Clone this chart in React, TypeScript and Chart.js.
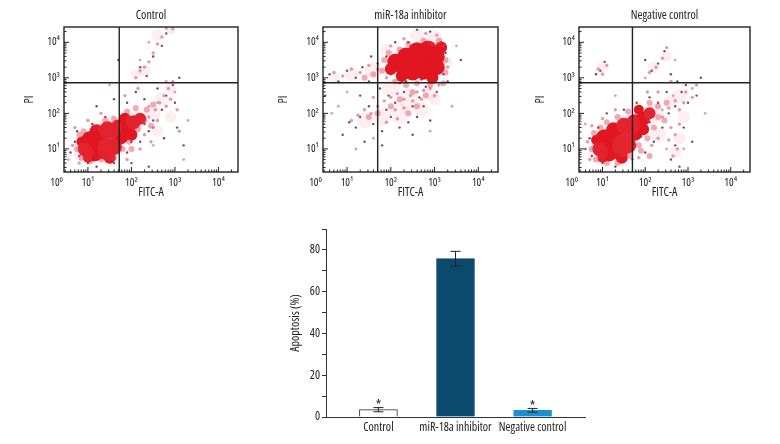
import React, { useEffect, useRef } from "react";
import { Chart, registerables } from "chart.js";
Chart.register(...registerables);

const FAMILY = "'Open Sans', 'Roboto', sans-serif";
const STRETCH = "condensed"; // passed through Chart.js font "weight" slot -> "normal condensed 12px 'Open Sans'"
const f = (size: number) => ({ family: FAMILY, size, weight: STRETCH as any, style: "normal" as const, lineHeight: 1.2 });

// ---- Flow cytometry panels (values in log10 units) ----
const flowTitles = ["Control", "miR-18a inhibitor", "Negative control"];
const xTickValues = [0.28, 1, 2, 3, 4];
const xTickLabels = ["10⁰", "10¹", "10²", "10³", "10⁴"];
const yTickValues = [1, 2, 3, 4];
const yTickLabels = ["10¹", "10²", "10³", "10⁴"];
const quadX = [1.72, 1.7, 1.7];
const quadY = [2.86, 2.86, 2.86];

const core1 = [[0.95,1.0,8],[1.15,0.9,9],[1.4,0.95,9],[1.6,1.05,8],[1.05,1.25,9],[1.3,1.2,10],[1.55,1.3,9],[1.75,1.35,8],[1.2,1.5,7],[1.45,1.55,8],[1.7,1.6,8],[1.9,1.6,8],[2.05,1.75,7],[2.2,1.85,6],[1.85,1.85,6],[1.5,0.75,6],[1.0,0.75,5],[0.85,1.2,5],[2.0,1.4,6]];
const core2 = [[2.1,3.45,8],[2.3,3.3,9],[2.35,3.6,9],[2.55,3.45,10],[2.6,3.75,9],[2.8,3.5,10],[2.85,3.8,9],[3.05,3.6,8],[3.05,3.3,8],[2.75,3.2,9],[2.5,3.15,8],[2.25,3.05,6],[2.95,3.0,6],[3.15,3.85,6],[2.0,3.25,6]];
const core3 = [[0.95,1.0,8],[1.15,0.9,9],[1.4,0.95,9],[1.6,1.1,8],[1.05,1.3,9],[1.3,1.25,10],[1.55,1.35,9],[1.75,1.45,8],[1.25,1.55,7],[1.5,1.65,8],[1.75,1.75,8],[1.95,1.85,7],[2.1,2.0,6],[1.85,2.1,5],[1.45,0.75,6],[1.0,0.75,5],[0.85,1.25,5],[1.95,1.55,6]];

const fringe1 = [[0.75,1.0],[0.8,1.4],[0.85,0.75],[1.05,0.65],[1.3,0.7],[1.6,0.75],[1.8,1.0],[1.95,1.2],[2.15,1.55],[2.3,1.8],[2.35,2.1],[2.1,2.15],[1.9,2.05],[1.6,1.85],[1.4,1.8],[1.15,1.6],[0.9,1.5],[2.45,1.65],[2.5,2.25],[2.0,1.0]];
const fringe2 = [[1.85,3.5],[1.8,3.2],[1.95,3.7],[2.2,3.8],[2.4,3.95],[2.75,4.05],[3.1,4.05],[3.25,3.5],[3.25,3.15],[3.2,2.85],[2.9,2.8],[2.6,2.85],[2.35,2.8],[2.1,2.9],[1.6,3.1],[1.4,3.0],[2.5,2.6],[2.8,2.5],[2.2,2.4],[2.0,2.2],[1.7,2.0],[2.4,2.0],[2.6,2.2],[1.5,1.9]];
const fringe3 = [[0.75,1.0],[0.8,1.45],[0.85,0.7],[1.1,0.6],[1.35,0.6],[1.65,0.8],[1.85,1.1],[2.05,1.3],[2.2,1.6],[2.3,1.9],[2.3,2.2],[2.1,2.3],[1.6,2.05],[1.35,1.9],[1.1,1.75],[0.95,1.6],[2.45,1.8],[2.5,2.3],[1.9,0.95],[2.1,0.8]];

const mid1 = [[2.4,1.9],[2.55,2.1],[2.65,2.3],[2.75,2.5],[2.85,2.7],[2.95,2.9],[2.5,1.6],[2.6,1.8],[2.8,2.2],[2.9,2.4],[2.3,1.4],[2.2,1.0],[2.45,1.2],[1.9,0.7],[0.8,0.6],[0.65,1.1],[0.7,1.6],[1.0,1.8],[1.3,2.0],[2.1,3.0],[2.2,3.2],[2.3,3.3],[2.4,3.45],[2.5,3.7],[2.6,3.95],[2.7,4.15],[2.8,4.4],[2.95,4.38],[2.15,2.7],[1.85,2.5],[3.05,2.1],[3.1,1.5]];
const mid2 = [[1.1,1.8],[1.25,1.95],[1.4,2.1],[1.55,2.0],[1.7,2.2],[1.85,2.35],[2.0,2.45],[2.15,2.55],[2.3,2.4],[2.45,2.5],[2.6,2.6],[2.75,2.65],[2.9,2.7],[3.0,2.5],[2.1,2.1],[2.3,2.15],[2.5,2.35],[2.7,2.4],[1.9,1.75],[2.15,1.85],[1.6,2.45],[0.7,3.15],[0.9,3.05],[1.1,3.25],[1.3,3.15],[1.5,3.35],[1.7,3.25],[1.9,3.0],[2.0,3.9],[2.3,4.1],[2.8,4.25],[3.05,4.2],[3.2,3.9],[3.3,3.3],[3.1,2.8]];
const mid3 = [[2.4,1.9],[2.55,2.15],[2.7,2.35],[2.8,2.1],[2.9,2.3],[2.95,2.6],[2.6,1.6],[2.7,1.4],[2.75,1.0],[2.65,0.8],[2.55,1.25],[2.8,1.7],[2.3,1.3],[2.15,1.1],[1.85,0.75],[0.7,0.7],[0.65,1.2],[0.75,1.65],[1.0,1.85],[1.3,2.1],[0.9,3.25],[1.0,3.1],[1.1,3.35],[2.1,3.15],[2.25,3.3],[2.4,3.55],[2.5,3.85],[2.3,2.6],[2.05,2.6],[3.1,2.45],[3.2,2.8],[2.6,2.9]];

const haze1 = [[0.9,0.9,10],[1.5,1.0,12],[1.5,1.6,12],[2.1,1.8,10],[2.5,2.0,8],[2.7,2.4,7],[2.9,2.7,6],[2.3,3.2,6],[2.1,3.1,5],[2.6,4.2,6],[2.9,4.35,5],[2.6,1.5,6],[2.9,1.9,6]];
const haze2 = [[1.6,3.2,9],[1.1,3.1,7],[0.7,3.0,6],[2.0,2.7,9],[2.4,2.4,10],[2.9,2.6,8],[2.2,2.0,10],[1.8,1.9,9],[1.4,1.8,8],[2.7,2.1,8],[3.0,2.4,6],[3.0,4.1,8],[2.6,4.2,7],[1.9,3.8,6],[3.3,3.4,5]];
const haze3 = [[0.9,0.9,10],[1.5,1.1,12],[1.6,1.7,12],[2.2,2.0,10],[2.6,2.3,7],[2.8,2.5,7],[2.9,1.9,6],[2.8,1.3,6],[2.7,0.9,6],[1.0,3.3,6],[2.2,3.3,6],[2.5,3.6,5],[2.3,1.4,8]];

const dark1 = [[0.7,1.2],[0.8,0.8],[1.0,0.6],[1.2,0.5],[1.6,0.6],[1.9,0.9],[2.2,1.2],[2.4,1.5],[2.5,1.8],[2.7,2.1],[2.8,2.5],[2.95,2.8],[3.0,2.3],[2.6,2.7],[2.3,2.4],[2.1,2.6],[1.9,2.3],[1.6,2.4],[1.7,3.5],[2.2,3.3],[2.35,3.05],[2.5,3.6],[2.7,3.9],[2.8,4.25],[3.05,1.6],[2.75,1.3],[3.2,1.1],[2.4,0.5],[1.4,1.9],[1.1,1.7],[0.75,1.5],[1.3,1.1],[1.7,1.0],[1.55,1.35],[2.0,1.2],[2.3,1.7],[1.2,2.2],[3.1,3.0],[0.6,0.9],[2.0,0.6]];
const dark2 = [[0.6,3.1],[0.8,2.9],[1.0,3.2],[1.2,3.0],[1.35,3.3],[1.5,2.9],[1.7,3.4],[1.75,2.7],[1.95,2.5],[2.1,2.3],[2.3,2.6],[2.5,2.2],[2.65,2.45],[2.8,2.75],[2.95,2.9],[3.05,2.6],[2.6,1.9],[2.4,1.75],[2.2,1.6],[1.9,2.1],[1.6,1.7],[1.3,1.9],[1.2,1.6],[1.05,1.75],[1.5,2.2],[1.8,1.5],[2.0,1.9],[2.75,2.2],[3.2,3.1],[3.25,3.7],[3.15,4.0],[2.9,4.3],[2.6,4.35],[2.4,4.0],[2.1,4.0],[1.9,3.6],[1.55,3.6],[2.0,3.1],[2.35,2.9],[2.7,2.95],[3.3,2.9],[1.8,1.1],[1.4,1.2],[0.9,1.4],[2.5,1.4],[2.9,1.8],[3.6,3.5],[0.5,2.5],[1.3,2.5],[2.2,2.85]];
const dark3 = [[0.7,1.3],[0.75,0.8],[1.0,0.6],[1.3,0.5],[1.7,0.7],[2.0,0.9],[2.2,1.2],[2.4,1.6],[2.55,2.0],[2.7,2.2],[2.85,2.6],[2.95,2.8],[2.75,2.9],[3.0,2.3],[2.9,1.6],[2.7,1.1],[2.6,0.7],[2.8,0.5],[2.5,2.6],[2.3,2.3],[2.1,2.45],[1.8,2.3],[1.5,2.1],[1.1,2.0],[0.9,1.6],[0.95,3.2],[1.05,3.45],[0.85,3.1],[2.15,3.2],[2.3,3.4],[2.45,3.75],[2.6,3.1],[2.0,3.5],[3.2,2.5],[3.3,3.0],[1.3,1.2],[1.6,0.95],[1.9,1.35],[1.55,1.45],[2.1,1.75],[0.6,1.0],[3.1,1.2]];

const pale1 = [[2.4,2.2],[2.6,2.3],[2.8,2.9],[3.0,2.6],[2.5,1.1],[3.3,1.8],[1.5,2.8],[2.2,3.5],[2.4,4.0],[0.55,0.7],[3.2,0.7]];
const pale2 = [[1.0,2.6],[0.8,2.2],[1.6,1.3],[2.9,1.5],[3.4,2.2],[3.5,3.9],[1.2,1.0],[0.65,2.0]];
const pale3 = [[2.4,2.1],[2.65,2.5],[3.1,2.7],[2.5,1.0],[2.9,1.0],[1.3,2.5],[2.0,3.0],[2.7,3.5],[0.6,1.7],[3.4,2.0]];

const coreSets = [core1, core2, core3];
const fringeSets = [fringe1, fringe2, fringe3];
const midSets = [mid1, mid2, mid3];
const hazeSets = [haze1, haze2, haze3];
const darkSets = [dark1, dark2, dark3];
const paleSets = [pale1, pale2, pale3];

// ---- Bar chart ----
const barCategories = ["Control", "miR-18a inhibitor", "Negative control"];
const barValues = [3.5, 75.8, 3.2];
const barErrors = [1.0, 3.5, 0.9];
const barStars = [true, false, true];
const barColors = ["#ffffff", "#0b4a6e", "#1b8fd2"];
const barBorders = ["#333333", "#0b4a6e", "#1b8fd2"];

const flowFrame = {
  id: "flowFrame",
  afterDatasetsDraw(chart: any, _args: any, opts: any) {
    const { ctx, chartArea: a, scales } = chart;
    const x = scales.x, y = scales.y;
    ctx.save();
    ctx.strokeStyle = "#222";
    ctx.lineWidth = 1.4;
    ctx.strokeRect(a.left, a.top, a.width, a.height);
    const qx = x.getPixelForValue(opts.qx);
    const qy = y.getPixelForValue(opts.qy);
    ctx.beginPath();
    ctx.moveTo(qx, a.top); ctx.lineTo(qx, a.bottom);
    ctx.moveTo(a.left, qy); ctx.lineTo(a.right, qy);
    ctx.stroke();
    ctx.lineWidth = 1;
    ctx.beginPath();
    for (let d = 0; d <= 4; d++) {
      for (let k = 1; k <= 9; k++) {
        const v = d + Math.log10(k);
        const len = k === 1 ? 5 : 2.5;
        if (v > x.min && v < x.max) {
          const px = x.getPixelForValue(v);
          ctx.moveTo(px, a.bottom); ctx.lineTo(px, a.bottom - len);
        }
        if (v > y.min && v < y.max) {
          const py = y.getPixelForValue(v);
          ctx.moveTo(a.left, py); ctx.lineTo(a.left + len, py);
        }
      }
    }
    ctx.stroke();
    ctx.restore();
  },
};

const errorBars = {
  id: "errorBars",
  afterDatasetsDraw(chart: any) {
    const { ctx, scales } = chart;
    const x = scales.x, y = scales.y;
    ctx.save();
    ctx.strokeStyle = "#222";
    ctx.fillStyle = "#222";
    ctx.lineWidth = 1;
    ctx.font = `normal condensed 14px ${FAMILY}`;
    ctx.textAlign = "center";
    ctx.textBaseline = "alphabetic";
    barValues.forEach((v, i) => {
      const px = x.getPixelForValue(i);
      const top = y.getPixelForValue(v + barErrors[i]);
      const bot = y.getPixelForValue(v - barErrors[i]);
      ctx.beginPath();
      ctx.moveTo(px, top); ctx.lineTo(px, bot);
      ctx.moveTo(px - 5, top); ctx.lineTo(px + 5, top);
      ctx.moveTo(px - 5, bot); ctx.lineTo(px + 5, bot);
      ctx.stroke();
      if (barStars[i]) ctx.fillText("*", px, top + 2.5);
    });
    ctx.restore();
  },
};

function toPts(arr: number[][]) {
  return arr.map((p) => ({ x: p[0], y: p[1] }));
}

function FlowPlot({ idx, left, boxLeft, boxRight }: { idx: number; left: number; boxLeft: number; boxRight: number }) {
  const ref = useRef<HTMLCanvasElement>(null);
  const width = boxRight + 10 - left;
  const height = 205;
  useEffect(() => {
    const chart = new Chart(ref.current as HTMLCanvasElement, {
      type: "scatter",
      data: {
        datasets: [
          { data: toPts(hazeSets[idx]), pointRadius: hazeSets[idx].map((p) => p[2]), backgroundColor: "rgba(236,125,150,0.13)", borderWidth: 0, clip: 0 } as any,
          { data: toPts(paleSets[idx]), pointRadius: 1.4, backgroundColor: "rgba(225,120,140,0.75)", borderWidth: 0, clip: 0 } as any,
          { data: toPts(midSets[idx]), pointRadius: 1.7, backgroundColor: "rgba(205,70,100,0.55)", borderWidth: 0, clip: 0 } as any,
          { data: toPts(fringeSets[idx]), pointRadius: 3, backgroundColor: "rgba(226,40,60,0.4)", borderWidth: 0, clip: 0 } as any,
          { data: toPts(coreSets[idx]), pointRadius: coreSets[idx].map((p) => p[2]), backgroundColor: "rgb(226,22,32)", borderWidth: 0, clip: 0 } as any,
          { data: toPts(darkSets[idx]), pointRadius: 1.2, backgroundColor: "rgba(70,35,45,0.8)", borderWidth: 0, clip: 0 } as any,
        ],
      },
      options: {
        responsive: false,
        animation: false,
        events: [],
        layout: { padding: { left: 0, right: 10, top: 0, bottom: 0 } },
        plugins: {
          legend: { display: false },
          tooltip: { enabled: false },
          title: {
            display: true,
            text: flowTitles[idx],
            fullSize: false,
            color: "#222",
            font: f(12),
            padding: { top: 8, bottom: 4.6 },
          },
          flowFrame: { qx: quadX[idx], qy: quadY[idx] },
        } as any,
        scales: {
          x: {
            type: "linear", min: 0.45, max: 4.45, bounds: "data",
            grid: { display: false, drawTicks: false },
            border: { display: false },
            afterBuildTicks: (s: any) => { s.ticks = xTickValues.map((v) => ({ value: v })); },
            afterFit: (s: any) => { s.height = 33; },
            ticks: { padding: 4, color: "#222", font: f(11), autoSkip: false, maxRotation: 0, callback: (_v: any, i: number) => xTickLabels[i] },
            title: { display: true, text: "FITC-A", color: "#222", font: f(12), padding: { top: 0, bottom: 5 } },
          },
          y: {
            type: "linear", min: 0.35, max: 4.43, bounds: "data",
            grid: { display: false, drawTicks: false },
            border: { display: false },
            afterBuildTicks: (s: any) => { s.ticks = yTickValues.map((v) => ({ value: v })); },
            afterFit: (s: any) => { s.width = boxLeft - left; },
            ticks: { padding: 4, color: "#222", font: f(11), autoSkip: false, callback: (_v: any, i: number) => yTickLabels[i] },
            title: { display: true, text: "PI", color: "#222", font: f(12), padding: { top: 2, bottom: 0 } },
          },
        },
      },
      plugins: [flowFrame],
    });
    return () => chart.destroy();
  }, []);
  return <canvas ref={ref} width={width} height={height} style={{ position: "absolute", left, top: 0, width, height }} />;
}

function BarPlot() {
  const ref = useRef<HTMLCanvasElement>(null);
  const left = 280, top = 215, width = 320, height = 229;
  useEffect(() => {
    const chart = new Chart(ref.current as HTMLCanvasElement, {
      type: "bar",
      data: {
        datasets: [
          { data: barValues.map((v, i) => ({ x: i, y: v })), backgroundColor: barColors, borderColor: barBorders, borderWidth: 1, barThickness: 38 } as any,
        ],
      },
      options: {
        responsive: false,
        animation: false,
        events: [],
        layout: { padding: { left: 0, right: 15, top: 14, bottom: 0 } },
        plugins: { legend: { display: false }, tooltip: { enabled: false } },
        scales: {
          x: {
            type: "linear", min: -0.68, max: 2.68, offset: false, bounds: "data",
            grid: { display: false, drawTicks: false },
            border: { display: true, color: "#333", width: 1 },
            afterBuildTicks: (s: any) => { s.ticks = barCategories.map((_c, i) => ({ value: i })); },
            afterFit: (s: any) => { s.height = 27; },
            ticks: { padding: 3, color: "#222", autoSkip: false, maxRotation: 0, font: f(12), callback: (_v: any, i: number) => barCategories[i] },
          },
          y: {
            type: "linear", min: 0, max: 90, bounds: "data",
            grid: { drawOnChartArea: false, drawTicks: true, tickLength: 4, color: "#333" },
            border: { display: true, color: "#333", width: 1 },
            afterFit: (s: any) => { s.width = 46; },
            ticks: { stepSize: 10, padding: 2, color: "#222", autoSkip: false, font: f(12), callback: (v: any) => (v % 20 === 0 ? String(v) : "") },
            title: { display: true, text: "Apoptosis (%)", color: "#222", font: f(12), padding: { top: 8, bottom: 0 } },
          },
        },
      },
      plugins: [errorBars],
    });
    return () => chart.destroy();
  }, []);
  return <canvas ref={ref} width={width} height={height} style={{ position: "absolute", left, top, width, height }} />;
}

export default function App() {
  return (
    <div style={{ position: "absolute", left: 0, top: 0, width: 780, height: 444, background: "#fff", overflow: "hidden" }}>
      <FlowPlot idx={0} left={20} boxLeft={64} boxRight={240} />
      <FlowPlot idx={1} left={274} boxLeft={323} boxRight={498} />
      <FlowPlot idx={2} left={531} boxLeft={579} boxRight={752} />
      <BarPlot />
    </div>
  );
}
